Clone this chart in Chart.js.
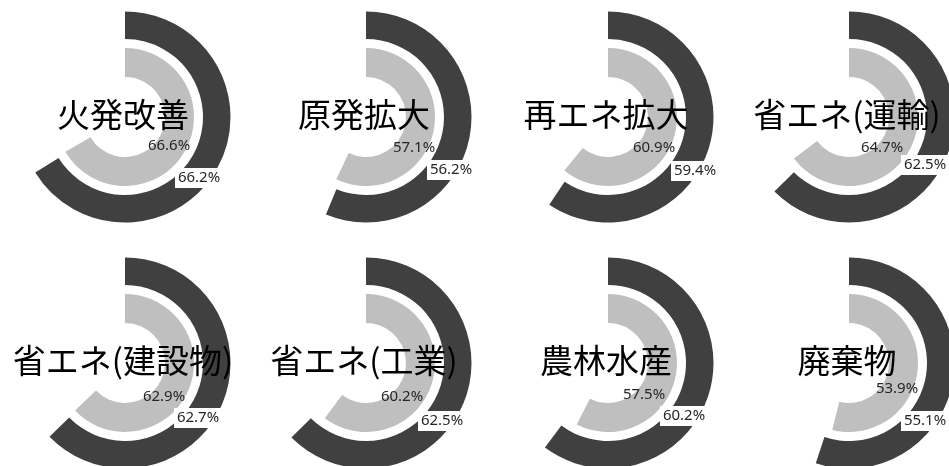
<!DOCTYPE html>
<html>
<head>
<meta charset="utf-8">
<script src="https://cdn.jsdelivr.net/npm/chart.js@4/dist/chart.umd.min.js"></script>
<style>
  html, body { margin: 0; padding: 0; background: #fff; }
  body { width: 949px; height: 466px; overflow: hidden; position: relative; }
  .cell { position: absolute; width: 250px; height: 234px; }
  .cell canvas { display: block; }
</style>
</head>
<body>
<script>
// Sector names shown in the middle of each ring
const categories = ['火発改善', '原発拡大', '再エネ拡大', '省エネ(運輸)',
                    '省エネ(建設物)', '省エネ(工業)', '農林水産', '廃棄物'];
// Outer (dark) ring, percent
const outerValues = [66.2, 56.2, 59.4, 62.5, 62.7, 62.5, 60.2, 55.1];
// Inner (light) ring, percent
const innerValues = [66.6, 57.1, 60.9, 64.7, 62.9, 60.2, 57.5, 53.9];

// Label placement relative to each ring's centre (layout only)
const outerLabelOffset = [[74, 61], [85, 53], [87, 54], [76, 48], [73, 55], [76, 58], [76, 53], [76, 58]];
const innerLabelOffset = [[44, 29], [48, 31], [46, 31], [33, 31], [39, 34], [36, 34], [36, 32], [48, 26]];

const DARK = '#404040';
const LIGHT = '#bfbfbf';
const fmt = v => v.toFixed(1) + '%';

const ringText = {
  id: 'ringText',
  afterDatasetsDraw(chart, args, opts) {
    const arc = chart.getDatasetMeta(0).data[0];
    const cx = arc.x, cy = arc.y;
    const ctx = chart.ctx;
    ctx.save();
    ctx.textAlign = 'center';
    ctx.textBaseline = 'middle';

    // sector name
    ctx.font = '33px "Noto Sans CJK JP"';
    ctx.fillStyle = '#000';
    ctx.fillText(opts.title, cx - 2, cy - 3);

    ctx.font = '15px "Noto Sans"';
    // inner ring value
    const [ix, iy] = opts.innerOffset;
    ctx.fillStyle = '#262626';
    ctx.fillText(fmt(opts.inner), cx + ix, cy + iy);

    // outer ring value on a white box
    const [ox, oy] = opts.outerOffset;
    const txt = fmt(opts.outer);
    const w = ctx.measureText(txt).width;
    ctx.fillStyle = '#fff';
    ctx.fillRect(Math.round(cx + ox - w / 2 - 3), Math.round(cy + oy - 10), Math.round(w + 6), 20);
    ctx.fillStyle = '#262626';
    ctx.fillText(txt, cx + ox, cy + oy);
    ctx.restore();
  }
};

categories.forEach((name, i) => {
  const col = i % 4, row = Math.floor(i / 4);
  const cell = document.createElement('div');
  cell.className = 'cell';
  cell.style.left = Math.round(col * 241.3) + 'px';
  cell.style.top = (row * 246) + 'px';
  const canvas = document.createElement('canvas');
  canvas.width = 250;
  canvas.height = 234;
  cell.appendChild(canvas);
  document.body.appendChild(cell);

  new Chart(canvas, {
    type: 'doughnut',
    data: {
      datasets: [
        { data: [outerValues[i], 100 - outerValues[i]], backgroundColor: [DARK, 'rgba(0,0,0,0)'], weight: 27.5 },
        { data: [100], backgroundColor: ['rgba(0,0,0,0)'], weight: 9 },
        { data: [innerValues[i], 100 - innerValues[i]], backgroundColor: [LIGHT, 'rgba(0,0,0,0)'], weight: 29 }
      ]
    },
    options: {
      responsive: false,
      animation: false,
      events: [],
      radius: 105.5,
      cutout: '37.9%',
      rotation: 0,
      circumference: 360,
      borderWidth: 0,
      layout: { padding: 0 },
      plugins: {
        legend: { display: false },
        tooltip: { enabled: false },
        ringText: {
          title: name,
          outer: outerValues[i],
          inner: innerValues[i],
          outerOffset: outerLabelOffset[i],
          innerOffset: innerLabelOffset[i]
        }
      }
    },
    plugins: [ringText]
  });
});
</script>
</body>
</html>
